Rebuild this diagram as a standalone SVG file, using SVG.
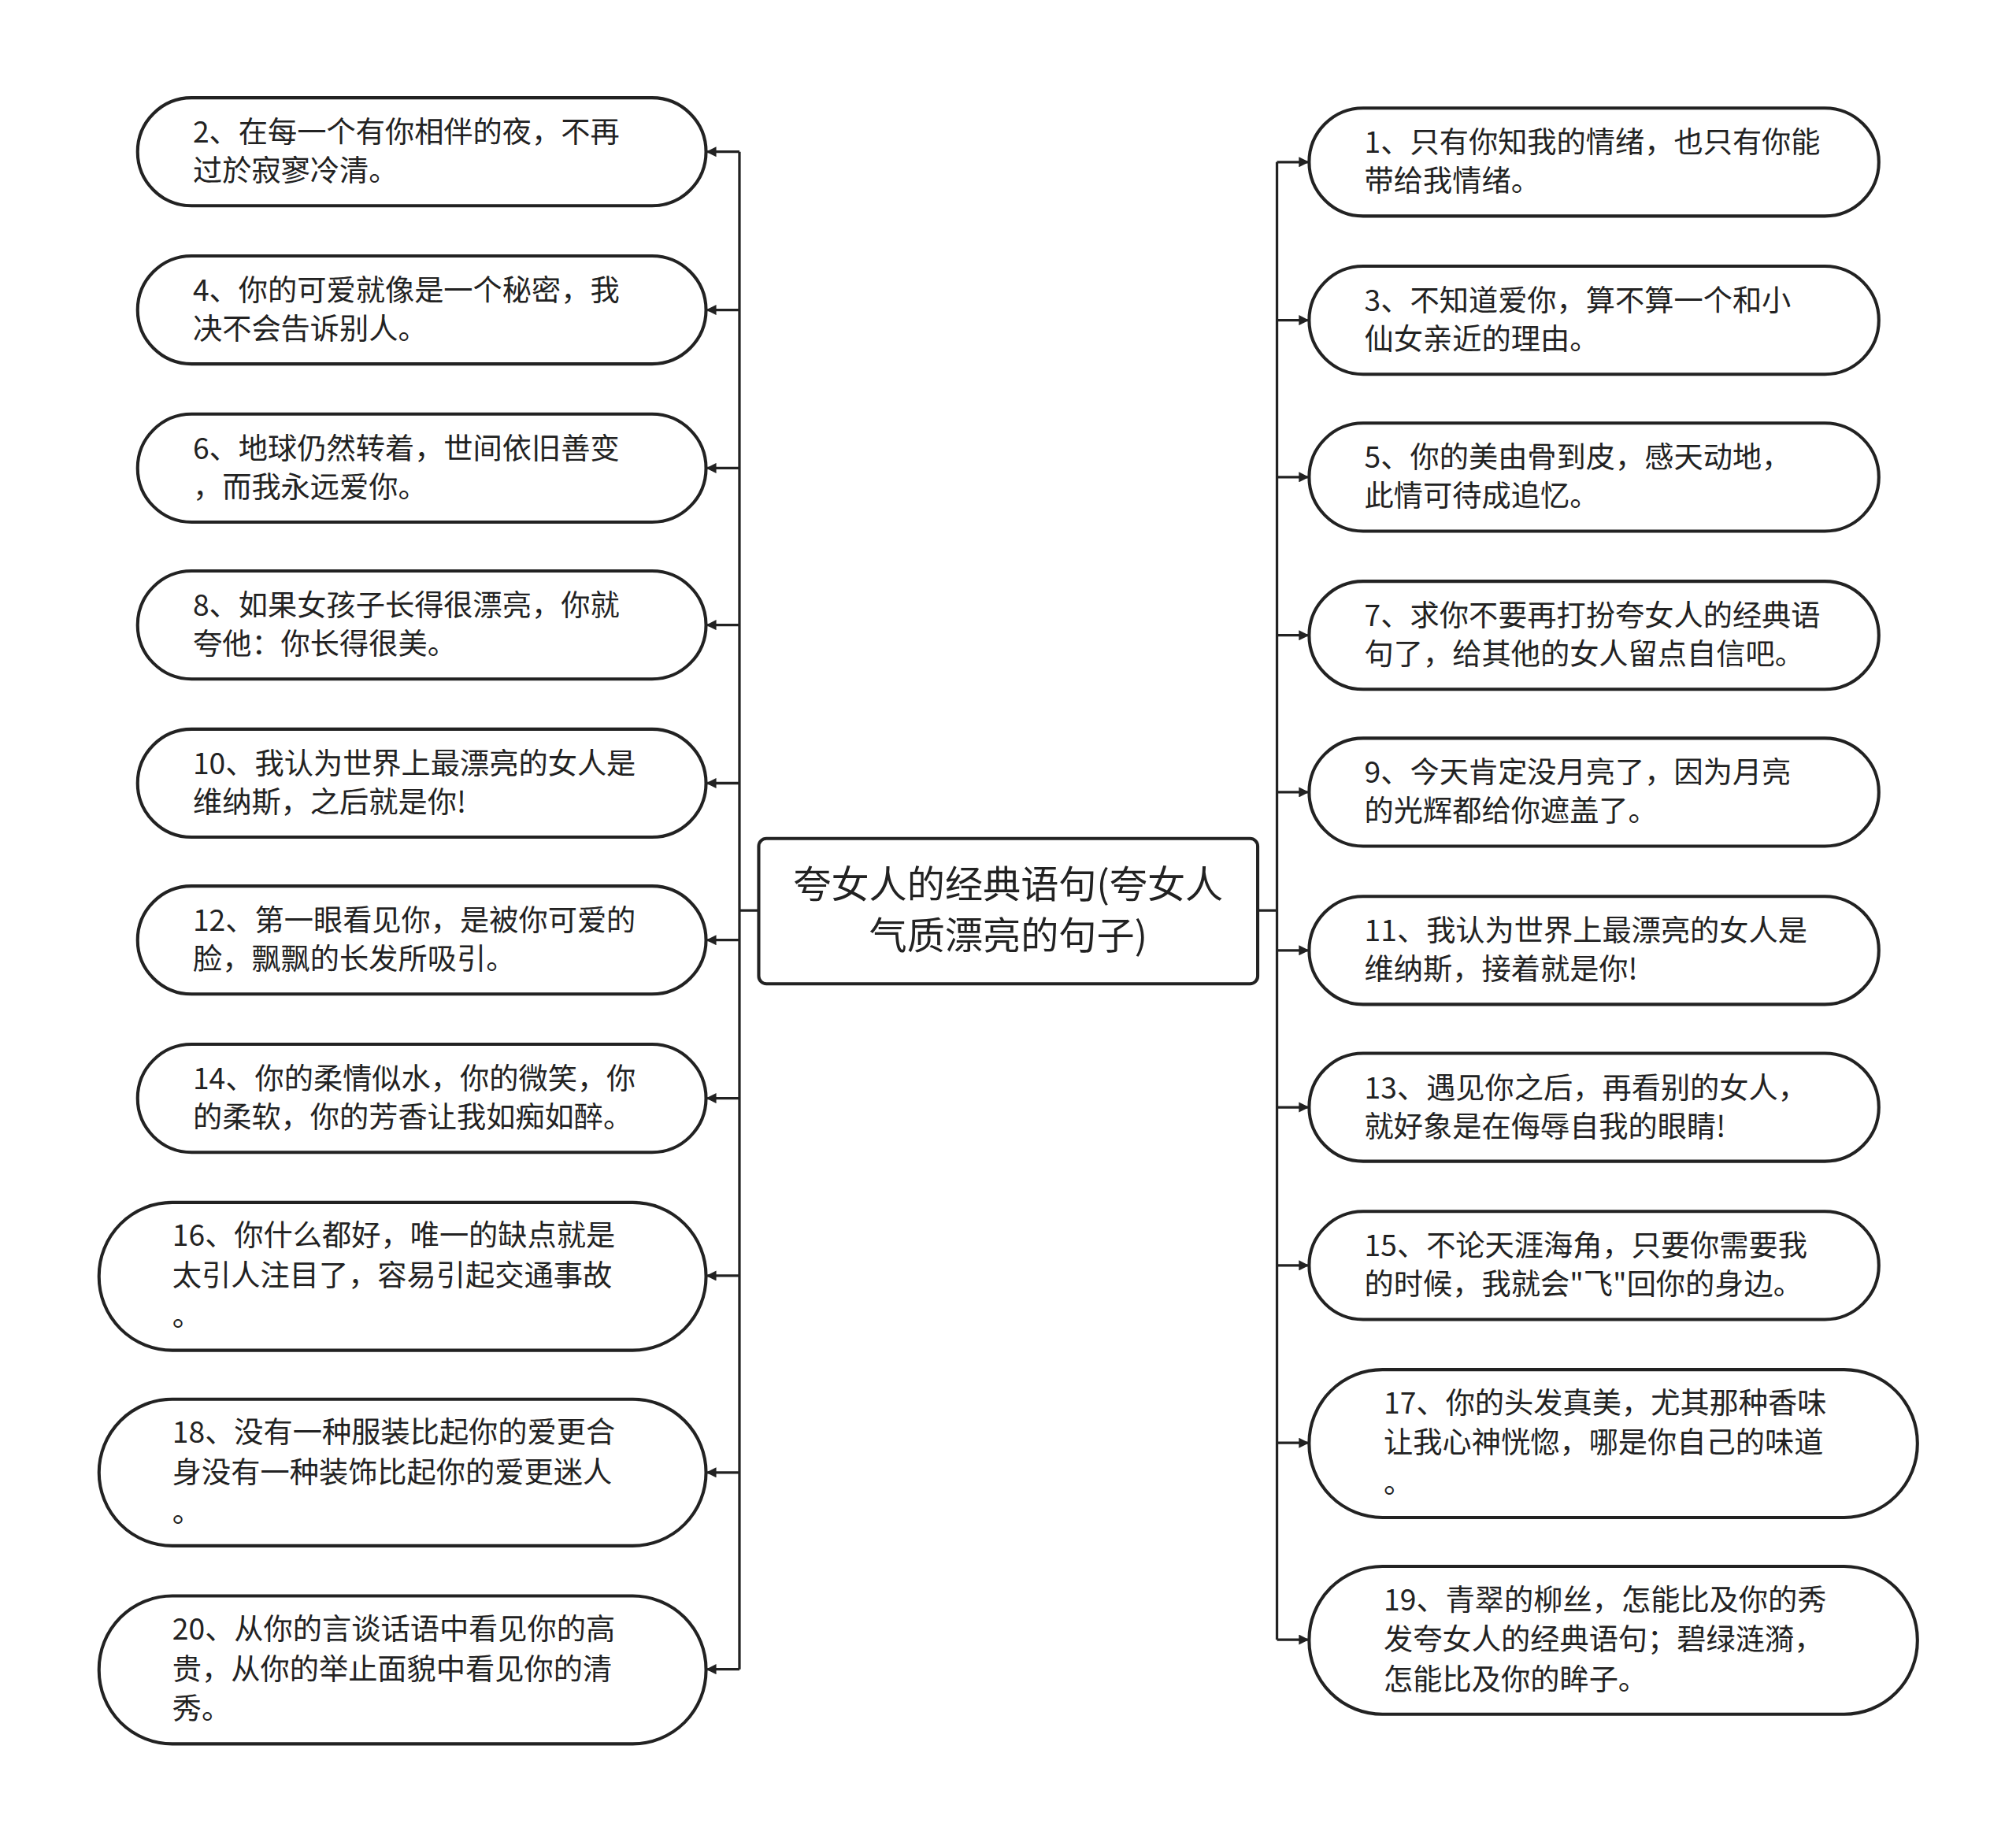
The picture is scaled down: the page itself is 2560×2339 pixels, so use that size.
<svg xmlns="http://www.w3.org/2000/svg" width="2560" height="2339" viewBox="0 0 2560 2339">
<style>
.n{fill:#fff;stroke:#222;stroke-width:2.5}
.t{font-family:"Noto Sans CJK SC","Noto Sans",sans-serif;font-size:22.8px;fill:#222}
.c{font-family:"Noto Sans CJK SC","Noto Sans",sans-serif;font-size:29.5px;fill:#222;text-anchor:middle}
.l{fill:none;stroke:#222;stroke-width:2}
.r{fill:none;stroke:#222;stroke-width:2;marker-end:url(#a)}
</style>
<defs><marker id="a" markerWidth="8" markerHeight="8" refX="7" refY="4" orient="auto" markerUnits="userSpaceOnUse"><path d="M0,0 L8,4 L0,8 Z" fill="#222"/></marker></defs>
<rect width="2560" height="2339" fill="#fff"/>
<g transform="scale(1.633)">
<g id="connectors">
<path class="l" d="M590,708 H575 M575,118 V1298 M978,708 H993 M993,126 V1275"/>
<path class="r" d="M575,118 H550"/><path class="r" d="M575,241 H550"/><path class="r" d="M575,364 H550"/><path class="r" d="M575,486 H550"/><path class="r" d="M575,609 H550"/><path class="r" d="M575,731 H550"/><path class="r" d="M575,854 H550"/><path class="r" d="M575,992 H550"/><path class="r" d="M575,1145 H550"/><path class="r" d="M575,1298 H550"/>
<path class="r" d="M993,126 H1017"/><path class="r" d="M993,249 H1017"/><path class="r" d="M993,371 H1017"/><path class="r" d="M993,494 H1017"/><path class="r" d="M993,616 H1017"/><path class="r" d="M993,739 H1017"/><path class="r" d="M993,861 H1017"/><path class="r" d="M993,984 H1017"/><path class="r" d="M993,1122 H1017"/><path class="r" d="M993,1275 H1017"/>
</g>
<g id="center"><rect class="n" x="590" y="652" width="388" height="113" rx="6"/><text class="c" x="784" y="698">夸女人的经典语句(夸女人</text><text class="c" x="784" y="738">气质漂亮的句子)</text></g>
<g id="n2"><rect class="n" x="107" y="76" width="442" height="84" rx="42"/><text class="t" x="150" y="111">2、在每一个有你相伴的夜，不再</text><text class="t" x="150" y="141">过於寂寥冷清。</text></g>
<g id="n4"><rect class="n" x="107" y="199" width="442" height="84" rx="42"/><text class="t" x="150" y="234">4、你的可爱就像是一个秘密，我</text><text class="t" x="150" y="264">决不会告诉别人。</text></g>
<g id="n6"><rect class="n" x="107" y="322" width="442" height="84" rx="42"/><text class="t" x="150" y="357">6、地球仍然转着，世间依旧善变</text><text class="t" x="150" y="387">，而我永远爱你。</text></g>
<g id="n8"><rect class="n" x="107" y="444" width="442" height="84" rx="42"/><text class="t" x="150" y="479">8、如果女孩子长得很漂亮，你就</text><text class="t" x="150" y="509">夸他：你长得很美。</text></g>
<g id="n10"><rect class="n" x="107" y="567" width="442" height="84" rx="42"/><text class="t" x="150" y="602">10、我认为世界上最漂亮的女人是</text><text class="t" x="150" y="632">维纳斯，之后就是你!</text></g>
<g id="n12"><rect class="n" x="107" y="689" width="442" height="84" rx="42"/><text class="t" x="150" y="724">12、第一眼看见你，是被你可爱的</text><text class="t" x="150" y="754">脸，飘飘的长发所吸引。</text></g>
<g id="n14"><rect class="n" x="107" y="812" width="442" height="84" rx="42"/><text class="t" x="150" y="847">14、你的柔情似水，你的微笑，你</text><text class="t" x="150" y="877">的柔软，你的芳香让我如痴如醉。</text></g>
<g id="n16"><rect class="n" x="77" y="935" width="472" height="115" rx="57"/><text class="t" x="134" y="969">16、你什么都好，唯一的缺点就是</text><text class="t" x="134" y="1000">太引人注目了，容易引起交通事故</text><text class="t" x="134" y="1031">。</text></g>
<g id="n18"><rect class="n" x="77" y="1088" width="472" height="114" rx="57"/><text class="t" x="134" y="1122">18、没有一种服装比起你的爱更合</text><text class="t" x="134" y="1153">身没有一种装饰比起你的爱更迷人</text><text class="t" x="134" y="1184">。</text></g>
<g id="n20"><rect class="n" x="77" y="1241" width="472" height="115" rx="57"/><text class="t" x="134" y="1275">20、从你的言谈话语中看见你的高</text><text class="t" x="134" y="1306">贵，从你的举止面貌中看见你的清</text><text class="t" x="134" y="1337">秀。</text></g>
<g id="n1"><rect class="n" x="1018" y="84" width="443" height="84" rx="42"/><text class="t" x="1061" y="119">1、只有你知我的情绪，也只有你能</text><text class="t" x="1061" y="149">带给我情绪。</text></g>
<g id="n3"><rect class="n" x="1018" y="207" width="443" height="84" rx="42"/><text class="t" x="1061" y="242">3、不知道爱你，算不算一个和小</text><text class="t" x="1061" y="272">仙女亲近的理由。</text></g>
<g id="n5"><rect class="n" x="1018" y="329" width="443" height="84" rx="42"/><text class="t" x="1061" y="364">5、你的美由骨到皮，感天动地，</text><text class="t" x="1061" y="394">此情可待成追忆。</text></g>
<g id="n7"><rect class="n" x="1018" y="452" width="443" height="84" rx="42"/><text class="t" x="1061" y="487">7、求你不要再打扮夸女人的经典语</text><text class="t" x="1061" y="517">句了，给其他的女人留点自信吧。</text></g>
<g id="n9"><rect class="n" x="1018" y="574" width="443" height="84" rx="42"/><text class="t" x="1061" y="609">9、今天肯定没月亮了，因为月亮</text><text class="t" x="1061" y="639">的光辉都给你遮盖了。</text></g>
<g id="n11"><rect class="n" x="1018" y="697" width="443" height="84" rx="42"/><text class="t" x="1061" y="732">11、我认为世界上最漂亮的女人是</text><text class="t" x="1061" y="762">维纳斯，接着就是你!</text></g>
<g id="n13"><rect class="n" x="1018" y="819" width="443" height="84" rx="42"/><text class="t" x="1061" y="854">13、遇见你之后，再看别的女人，</text><text class="t" x="1061" y="884">就好象是在侮辱自我的眼睛!</text></g>
<g id="n15"><rect class="n" x="1018" y="942" width="443" height="84" rx="42"/><text class="t" x="1061" y="977">15、不论天涯海角，只要你需要我</text><text class="t" x="1061" y="1007">的时候，我就会"飞"回你的身边。</text></g>
<g id="n17"><rect class="n" x="1018" y="1065" width="473" height="115" rx="57"/><text class="t" x="1076" y="1099">17、你的头发真美，尤其那种香味</text><text class="t" x="1076" y="1130">让我心神恍惚，哪是你自己的味道</text><text class="t" x="1076" y="1161">。</text></g>
<g id="n19"><rect class="n" x="1018" y="1218" width="473" height="115" rx="57"/><text class="t" x="1076" y="1252">19、青翠的柳丝，怎能比及你的秀</text><text class="t" x="1076" y="1283">发夸女人的经典语句；碧绿涟漪，</text><text class="t" x="1076" y="1314">怎能比及你的眸子。</text></g>
</g>
</svg>
